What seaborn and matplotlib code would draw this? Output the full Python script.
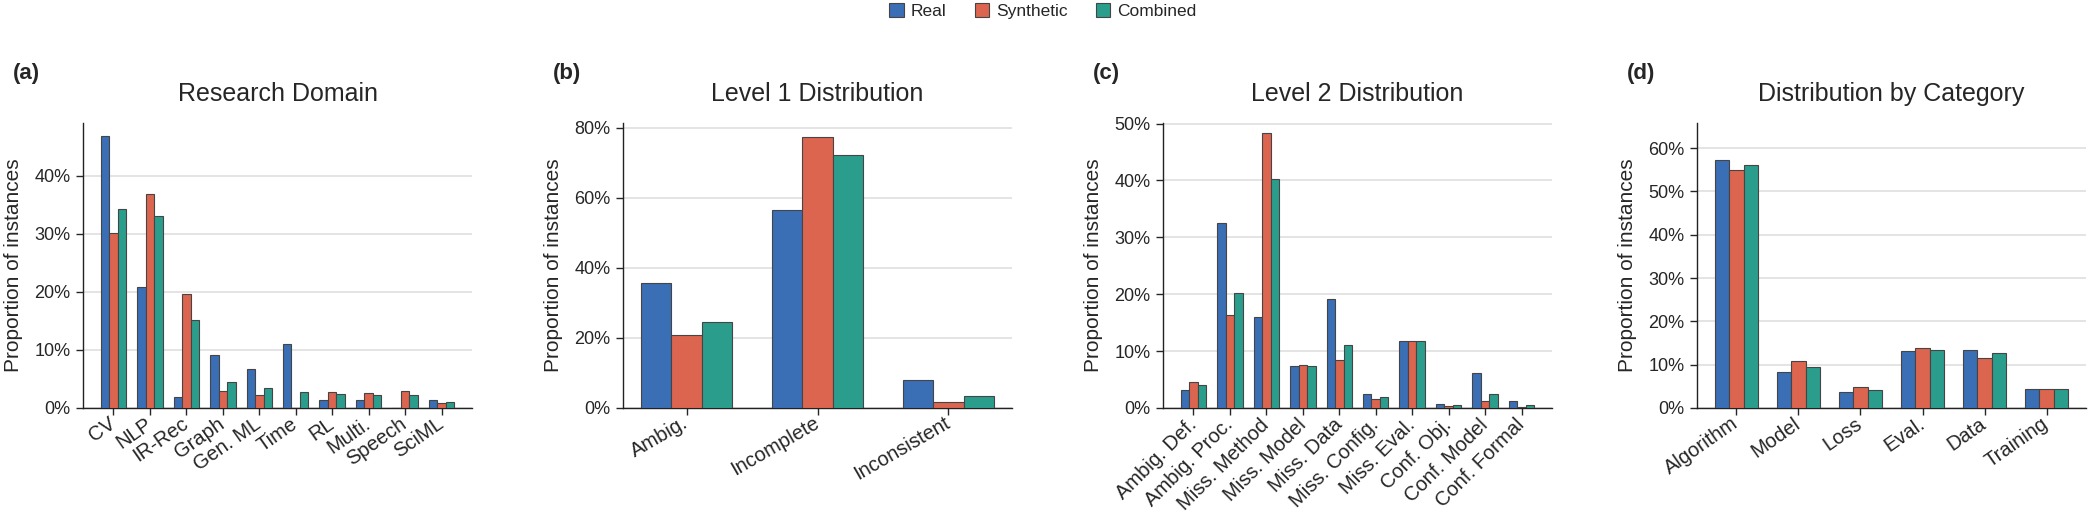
import numpy as np
import pandas as pd
import matplotlib
matplotlib.use("Agg")
import matplotlib.pyplot as plt
import seaborn as sns
from matplotlib.patches import Patch
from matplotlib.ticker import FuncFormatter

# ---------------- data (percent of instances) ----------------
sources = ["Real", "Synthetic", "Combined"]
colors = ["#3A6EB5", "#DC654F", "#2A9D8C"]

domain_cats = ["CV", "NLP", "IR-Rec", "Graph", "Gen. ML", "Time", "RL", "Multi.", "Speech", "SciML"]
domain_real = [46.8, 20.9, 1.9, 9.2, 6.8, 11.1, 1.3, 1.3, 0.0, 1.4]
domain_syn = [30.1, 36.9, 19.6, 2.9, 2.2, 0.0, 2.8, 2.6, 2.9, 0.9]
domain_comb = [34.2, 33.0, 15.2, 4.5, 3.4, 2.8, 2.4, 2.2, 2.2, 1.0]

l1_cats = ["Ambig.", "Incomplete", "Inconsistent"]
l1_real = [35.7, 56.5, 7.9]
l1_syn = [20.9, 77.5, 1.8]
l1_comb = [24.5, 72.3, 3.3]

l2_cats = ["Ambig. Def.", "Ambig. Proc.", "Miss. Method", "Miss. Model", "Miss. Data",
           "Miss. Config.", "Miss. Eval.", "Conf. Obj.", "Conf. Model", "Conf. Formal"]
l2_real = [3.1, 32.5, 16.0, 7.4, 19.1, 2.5, 11.7, 0.7, 6.1, 1.3]
l2_syn = [4.5, 16.3, 48.3, 7.5, 8.4, 1.6, 11.7, 0.4, 1.3, 0.25]
l2_comb = [4.1, 20.3, 40.2, 7.4, 11.1, 2.0, 11.7, 0.5, 2.5, 0.5]

cat_cats = ["Algorithm", "Model", "Loss", "Eval.", "Data", "Training"]
cat_real = [57.2, 8.2, 3.8, 13.2, 13.5, 4.5]
cat_syn = [55.0, 10.8, 4.8, 13.8, 11.5, 4.5]
cat_comb = [56.2, 9.4, 4.2, 13.4, 12.7, 4.5]

panel_labels = ["(a)", "(b)", "(c)", "(d)"]
titles = ["Research Domain", "Level 1 Distribution", "Level 2 Distribution", "Distribution by Category"]

# ---------------- style ----------------
sns.set_style("ticks")
plt.rcParams["font.family"] = ["Liberation Sans", "DejaVu Sans"]
plt.rcParams["axes.linewidth"] = 1.0
plt.rcParams["axes.edgecolor"] = "#222222"

W, H = 2097, 514
fig = plt.figure(figsize=(W / 100, H / 100), dpi=100)

panels = [
    (domain_cats, domain_real, domain_syn, domain_comb),
    (l1_cats, l1_real, l1_syn, l1_comb),
    (l2_cats, l2_real, l2_syn, l2_comb),
    (cat_cats, cat_real, cat_syn, cat_comb),
]
lefts_px = [83, 623, 1163, 1697]
ytops = [49.1, 81.4, 50.1, 65.8]
rotations = [35, 30, 45, 35]
ax_w_px, ax_bottom_px, ax_top_px = 389, 408, 123

for i, (cats, r, s, c) in enumerate(panels):
    ax = fig.add_axes([lefts_px[i] / W, (H - ax_bottom_px) / H,
                       ax_w_px / W, (ax_bottom_px - ax_top_px) / H])
    df = pd.DataFrame({
        "category": cats * 3,
        "value": list(r) + list(s) + list(c),
        "source": [sources[0]] * len(cats) + [sources[1]] * len(cats) + [sources[2]] * len(cats),
    })
    sns.barplot(data=df, x="category", y="value", hue="source", hue_order=sources,
                palette=colors, saturation=1, width=0.7, edgecolor="#454545", linewidth=0.8,
                legend=False, ax=ax, zorder=3)
    n = len(cats)
    span = (n - 1) + 0.7
    ax.set_xlim(-0.35 - 0.05 * span, n - 1 + 0.35 + 0.05 * span)
    ax.set_ylim(0, ytops[i])
    ax.yaxis.grid(True, color="#dcdcdc", linewidth=1.1, zorder=0)
    ax.set_axisbelow(True)
    ax.yaxis.set_major_formatter(FuncFormatter(lambda v, p: f"{v:.0f}%"))
    ax.set_xlabel("")
    ax.set_ylabel("Proportion of instances", fontsize=15, labelpad=8)
    ax.set_title(titles[i], fontsize=18, pad=16)
    ax.tick_params(axis="y", labelsize=13, length=5, width=1.0, pad=4)
    ax.tick_params(axis="x", labelsize=14.5, length=5, width=1.0, pad=5)
    for lab in ax.get_xticklabels():
        lab.set_rotation(rotations[i])
        lab.set_ha("right")
        lab.set_va("center")
        lab.set_rotation_mode("anchor")
    sns.despine(ax=ax)
    fig.text((lefts_px[i] - 70) / W, (H - 73) / H, panel_labels[i],
             fontsize=16, fontweight="bold", ha="left", va="center")

handles = [Patch(facecolor=col, edgecolor="#454545", linewidth=0.8, label=lab)
           for col, lab in zip(colors, sources)]
fig.legend(handles=handles, loc="center", bbox_to_anchor=(1043 / W, 1 - 11 / H),
           ncol=3, frameon=False, fontsize=12.5, handlelength=0.85, handleheight=0.85,
           handletextpad=0.4, columnspacing=1.6)

fig.savefig("out.png", dpi=100)
